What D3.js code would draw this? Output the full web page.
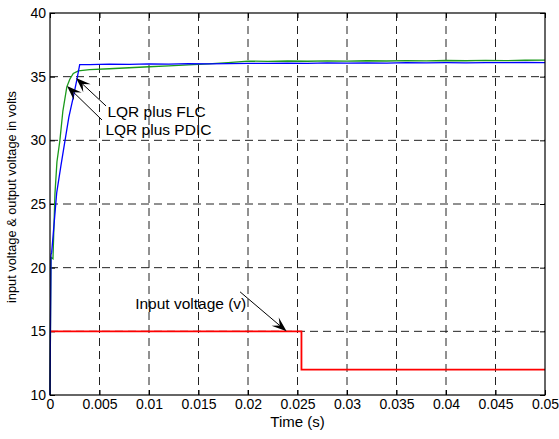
<!DOCTYPE html>
<html>
<head>
<meta charset="utf-8">
<script src="https://cdn.jsdelivr.net/npm/d3@7"></script>
<style>
  body { margin: 0; background: #fff; }
  svg { font-family: "Liberation Sans", Arial, sans-serif; }
</style>
</head>
<body>
<svg id="chart"></svg>
<script>
(function() {

// time ticks (s) and voltage ticks (V)
const xTicks = [0, 0.005, 0.01, 0.015, 0.02, 0.025, 0.03, 0.035, 0.04, 0.045, 0.05];
const xTickLabels = ["0", "0.005", "0.01", "0.015", "0.02", "0.025", "0.03", "0.035", "0.04", "0.045", "0.05"];
const yTicks = [10, 15, 20, 25, 30, 35, 40];

// LQR plus FLC (blue)
const flcTime =  [0, 0.0001, 0.00017, 0.00068, 0.0011, 0.00152, 0.0019, 0.00235, 0.0027, 0.003, 0.004, 0.006, 0.008, 0.010, 0.012, 0.014, 0.016, 0.018, 0.020, 0.022, 0.024, 0.026, 0.028, 0.030, 0.032, 0.034, 0.036, 0.038, 0.040, 0.042, 0.044, 0.046, 0.048, 0.050];
const flcVolts = [10, 21.0, 21.2, 25.9, 28.0, 30.0, 31.8, 33.4, 34.7, 35.95, 35.95, 35.98, 35.96, 36.0, 35.98, 36.02, 36.0, 36.03, 36.05, 36.04, 36.07, 36.05, 36.08, 36.06, 36.09, 36.07, 36.1, 36.08, 36.1, 36.09, 36.11, 36.1, 36.12, 36.1];

// LQR plus PDIC (green)
const pdicTime =  [0, 0.0001, 0.0003, 0.0005, 0.0007, 0.001, 0.0013, 0.0017, 0.002, 0.00235, 0.00286, 0.004, 0.006, 0.008, 0.010, 0.012, 0.014, 0.016, 0.018, 0.020, 0.022, 0.024, 0.026, 0.028, 0.030, 0.032, 0.034, 0.036, 0.038, 0.040, 0.042, 0.044, 0.046, 0.048, 0.050];
const pdicVolts = [10, 20.8, 20.7, 25.8, 28.3, 30.0, 32.3, 34.2, 34.8, 35.25, 35.45, 35.55, 35.62, 35.7, 35.78, 35.85, 35.92, 36.0, 36.1, 36.22, 36.2, 36.23, 36.21, 36.24, 36.22, 36.25, 36.23, 36.26, 36.24, 36.27, 36.25, 36.28, 36.26, 36.29, 36.3];

// input voltage (red)
const inTime =  [0, 0.0254, 0.0254, 0.05];
const inVolts = [15, 15, 12, 12];

const W = 559, H = 439;
const margin = { top: 13, right: 14, bottom: 44, left: 50 };
const width = W - margin.left - margin.right;
const height = H - margin.top - margin.bottom;
const tickFont = "14px";
const noteFont = "15.5px";

const svg = d3.select("#chart").attr("width", W).attr("height", H);
const g = svg.append("g").attr("transform", `translate(${margin.left},${margin.top})`);

const x = d3.scaleLinear().domain([0, 0.05]).range([0, width]);
const y = d3.scaleLinear().domain([10, 40]).range([height, 0]);

g.append("rect").attr("width", width).attr("height", height).attr("fill", "#fff");

// dashed grid
g.selectAll(".vgrid")
    .data(xTicks.slice(1, -1))
    .enter().append("line")
    .attr("x1", d => x(d)).attr("x2", d => x(d))
    .attr("y1", 0).attr("y2", height)
    .attr("stroke", "#222").attr("stroke-width", 1)
    .attr("stroke-dasharray", "8,5");

g.selectAll(".hgrid")
    .data(yTicks.slice(1, -1))
    .enter().append("line")
    .attr("x1", 0).attr("x2", width)
    .attr("y1", d => y(d)).attr("y2", d => y(d))
    .attr("stroke", "#222").attr("stroke-width", 1)
    .attr("stroke-dasharray", "8,5");

// axes with inward ticks, on all four sides
const xAxis = d3.axisBottom(x).tickValues(xTicks).tickFormat((d, i) => xTickLabels[i]).tickSizeInner(-5).tickSizeOuter(0).tickPadding(4);
const xAxisTop = d3.axisTop(x).tickValues(xTicks).tickFormat("").tickSizeInner(-5).tickSizeOuter(0);
const yAxis = d3.axisLeft(y).tickValues(yTicks).tickSizeInner(-5).tickSizeOuter(0).tickPadding(4);
const yAxisRight = d3.axisRight(y).tickValues(yTicks).tickFormat("").tickSizeInner(-5).tickSizeOuter(0);

function styleAxis(sel) {
    sel.select(".domain").remove();
    sel.selectAll("line").attr("stroke", "#000");
    sel.selectAll("text").attr("fill", "#000").style("font-size", tickFont);
}

g.append("g").attr("transform", `translate(0,${height})`).call(xAxis).call(styleAxis);
g.append("g").call(xAxisTop).call(styleAxis);
g.append("g").call(yAxis).call(styleAxis);
g.append("g").attr("transform", `translate(${width},0)`).call(yAxisRight).call(styleAxis);

// line series
const line = d3.line().x(d => x(d[0])).y(d => y(d[1]));

g.append("path")
    .attr("d", line(d3.zip(inTime, inVolts)))
    .attr("fill", "none").attr("stroke", "#ff0000").attr("stroke-width", 1.8);

g.append("path")
    .attr("d", line(d3.zip(pdicTime, pdicVolts)))
    .attr("fill", "none").attr("stroke", "#1a9a1a").attr("stroke-width", 1.3);

g.append("path")
    .attr("d", line(d3.zip(flcTime, flcVolts)))
    .attr("fill", "none").attr("stroke", "#0000ff").attr("stroke-width", 1.3);

// box
g.append("rect").attr("width", width).attr("height", height)
    .attr("fill", "none").attr("stroke", "#000").attr("stroke-width", 1.2);

// annotations: arrow from text to a point on a curve
function arrow(fromT, fromV, toT, toV) {
    const x1 = x(fromT), y1 = y(fromV), x2 = x(toT), y2 = y(toV);
    const a = Math.atan2(y2 - y1, x2 - x1);
    const len = 15, half = 5.5;
    const bx = x2 - len * Math.cos(a), by = y2 - len * Math.sin(a);
    const nx = x2 - 0.6 * len * Math.cos(a), ny = y2 - 0.6 * len * Math.sin(a);
    g.append("line")
        .attr("x1", x1).attr("y1", y1).attr("x2", nx).attr("y2", ny)
        .attr("stroke", "#000").attr("stroke-width", 1);
    const p = [
        [x2, y2],
        [bx - half * Math.sin(a), by + half * Math.cos(a)],
        [nx, ny],
        [bx + half * Math.sin(a), by - half * Math.cos(a)]
    ];
    g.append("path").attr("d", "M" + p.join("L") + "Z").attr("fill", "#000");
}

arrow(0.00566, 32.7, 0.00263, 34.9);
arrow(0.00525, 31.6, 0.00172, 34.27);
arrow(0.0192, 18.1, 0.0239, 15.0);

function label(t, v, txt) {
    g.append("text").attr("x", x(t)).attr("y", y(v))
        .attr("fill", "#000").style("font-size", noteFont).text(txt);
}
label(0.0058, 31.8, "LQR plus FLC");
label(0.0056, 30.45, "LQR plus PDIC");
label(0.0086, 16.75, "Input voltage (v)");

// axis titles
svg.append("text")
    .attr("x", margin.left + width / 2).attr("y", 427)
    .attr("text-anchor", "middle").style("font-size", "15px")
    .text("Time (s)");

svg.append("text")
    .attr("transform", `translate(16,${margin.top + 184}) rotate(-90)`)
    .attr("text-anchor", "middle").style("font-size", "12.8px")
    .text("input voltage & output voltage in volts");

})();
</script>
</body>
</html>
